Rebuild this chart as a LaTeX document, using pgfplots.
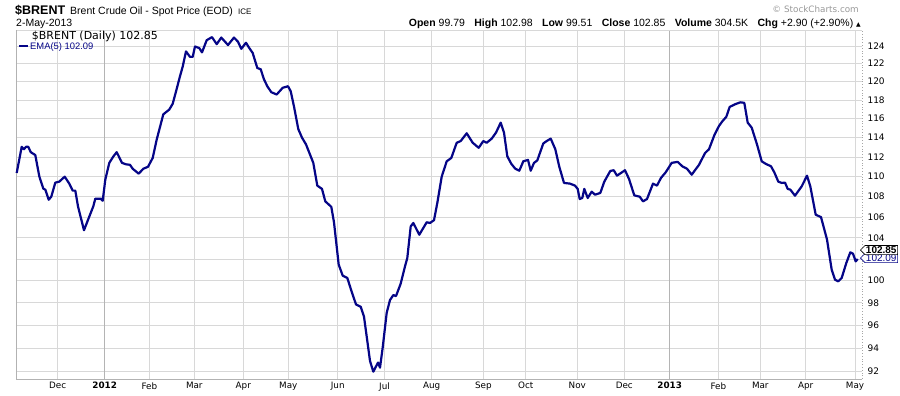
\documentclass[border=0pt]{standalone}
\usepackage{pgfplots}
\pgfplotsset{compat=1.18}
\usepackage{fontspec}
\setmainfont{Liberation Sans}
\newfontfamily\dv{DejaVu Sans}
\usetikzlibrary{shapes.symbols}
\definecolor{navy}{RGB}{5,5,135}
\definecolor{gridc}{RGB}{216,216,216}
\definecolor{yeargrid}{RGB}{180,180,180}

\pgfplotstableread{
x y
16.7 110.37
21.7 113.05
24 112.8
26 113.05
28.3 113.05
30.7 112.5
35.3 112.2
39.3 110.03
43.3 108.8
45.3 108.7
48.7 107.7
51.3 108.0
55.3 109.4
59.3 109.5
64.7 110.0
69.3 109.3
72.7 108.6
75.3 108.6
78 107.05
84 104.73
88.7 105.9
93.3 107.05
95.3 107.8
100.7 107.8
102.7 107.6
105.3 109.7
109.3 111.4
113.3 112.05
116.7 112.5
122 111.4
126 111.25
130 111.2
132.7 110.8
138.7 110.3
143.3 110.8
148 111.0
152.7 111.9
156.7 113.8
163.3 116.46
169.3 116.98
172.7 117.6
176 118.93
180 120.6
182.7 121.67
186 123.38
190 122.76
192.7 122.76
195 123.93
199.3 123.75
202 123.27
206.7 124.65
212 125.0
216.7 124.2
221.3 124.95
228 124.1
234 124.95
238 124.47
241.3 123.67
246 124.36
249.3 123.75
252.7 123.2
257.3 121.52
260.7 121.37
264 120.26
267.3 119.5
271.3 118.85
276.7 118.6
282.7 119.33
288 119.5
290.7 118.96
294 117.3
298.3 114.9
302 114.0
306 113.3
313.3 111.4
317.3 109.1
322 108.77
325.3 107.54
331.3 107.0
334 105.49
338.7 101.48
342.7 100.46
347.3 100.25
352 98.9
356 97.85
360.7 97.64
364 96.75
367.3 94.63
370 92.91
373.3 92.0
378 92.77
380 92.34
382.7 94.06
386.7 97.1
390 98.24
393.3 98.69
396 98.6
400.7 99.73
405 101.32
407.3 102.1
410.7 105.1
413.3 105.43
419.3 104.3
426.7 105.5
430 105.43
434 105.7
437.3 107.38
441.7 110.0
446.7 111.56
451.3 111.9
456.7 113.47
460.7 113.65
466.7 114.46
472.7 113.47
478.7 112.95
483.3 113.65
486.7 113.47
491.7 113.9
496 114.53
500.7 115.58
504 114.53
507.3 112.07
511.3 111.3
515.3 110.8
519.3 110.6
523.3 111.56
528 111.7
530.7 110.6
534 111.4
537.3 111.65
543.3 113.4
546.7 113.65
550.7 113.9
555.3 112.8
559.3 111.0
564 109.37
570 109.3
575 109.1
577.7 108.77
579.7 107.77
582.3 107.87
584.3 108.77
587.7 107.87
591.7 108.5
595 108.2
600.3 108.37
604.3 109.5
610.3 110.58
613.7 110.65
617 110.1
625 110.65
629 109.77
634.3 108.13
639.7 108.0
643 107.54
647 107.77
653 109.3
657 109.1
661 109.88
665.7 110.44
671.7 111.4
677.7 111.5
682.3 111.05
687 110.8
691.7 110.2
699 111.2
705 112.4
709 112.8
714.3 114.25
719 115.23
722.3 115.72
726.3 116.2
729.7 117.26
735 117.54
740.3 117.75
744.3 117.7
747.7 115.58
751.7 115.05
757 113.3
761.7 111.56
765.7 111.3
771 111.05
774.3 110.44
778.3 109.5
781.7 109.37
785 109.4
787.7 108.77
790.3 108.7
795 108.1
801.7 109.03
807 110.1
810.3 109.03
815.7 106.23
821 106.0
827 103.84
831.7 101.0
835 100.09
838.3 99.94
841.7 100.25
846.3 101.63
850.3 102.63
853 102.5
855.7 101.78
857.7 102.0
}\ema

\begin{document}
\begin{tikzpicture}
\useasboundingbox (0,0) rectangle (900pt,396pt);
\begin{axis}[
  at={(16pt,17pt)}, anchor=south west, scale only axis,
  width=846pt, height=349pt,
  xmin=16, xmax=862, ymode=log, ymin=91.39, ymax=125.83,
  clip=false,
  axis line style={draw=none},
  grid=major, grid style={gridc, line width=0.8pt},
  major tick length=0pt,
  xtick={57.7,149.3,194.3,243.3,288.3,337.7,384.5,431.7,483.3,525.7,577.3,624.3,718.3,760.3,805.7,855},
  xticklabels={Dec,Feb,Mar,Apr,May,Jun,Jul,Aug,Sep,Oct,Nov,Dec,Feb,Mar,Apr,May},
  extra x ticks={104.7,669.7},
  extra x tick labels={\textbf{2012},\textbf{2013}},
  extra x tick style={grid style={yeargrid, line width=0.8pt}},
  xticklabel style={font=\dv\fontsize{8.8}{10}\selectfont, text=black},
  ytick={92,94,96,98,100,102,104,106,108,110,112,114,116,118,120,122,124},
  yticklabels={92,94,96,98,100,102,104,106,108,110,112,114,116,118,120,122,124},
  yticklabel pos=right,
  yticklabel style={font=\dv\fontsize{9}{10}\selectfont, text=black, xshift=2pt},
]
% frame
\draw[gridc, line width=0.8pt] (rel axis cs:0,1) -- (rel axis cs:1,1);
\draw[gray!60, line width=0.8pt] (rel axis cs:0,1) -- (rel axis cs:0,0) -- (rel axis cs:1,0);
\draw[gray!70, line width=0.8pt, dotted] (rel axis cs:1,0) -- (rel axis cs:1,1);
\addplot[navy, line width=2.2pt, line join=round] table[x=x,y=y] {\ema};
% last value markers
\node[signal, signal to=west, draw=navy, fill=white, line width=0.6pt, inner sep=1pt,
      anchor=west, font=\fontsize{10}{10}\selectfont, text=navy, minimum height=9pt]
      at (axis cs:860,102.09) {102.09};
\node[signal, signal to=west, draw=black, fill=white, line width=0.6pt, inner sep=1pt,
      anchor=west, font=\bfseries\fontsize{10}{10}\selectfont, minimum height=9pt]
      at (axis cs:860,102.85) {102.85};
\end{axis}
% header
\node[anchor=base west, inner sep=0] at (15pt,381pt) {\bfseries\fontsize{12.5}{13}\selectfont \$BRENT};
\node[anchor=base west, inner sep=0] at (70pt,381pt) {\fontsize{10.5}{12}\selectfont Brent Crude Oil - Spot Price (EOD)};
\node[anchor=base west, inner sep=0] at (238pt,381pt) {\fontsize{8}{9}\selectfont ICE};
\node[anchor=base west, inner sep=0] at (16pt,369.3pt) {\fontsize{10.5}{12}\selectfont 2-May-2013};
\node[anchor=base east, inner sep=0, text=gray!80] at (859pt,383.5pt) {\dv\fontsize{8.8}{10}\selectfont \textcopyright\ StockCharts.com};
\node[anchor=base east, inner sep=0] at (861pt,369pt) {\fontsize{10.5}{12}\selectfont
  \textbf{Open} 99.79\hspace{6.5pt} \textbf{High} 102.98\hspace{6.5pt} \textbf{Low} 99.51\hspace{6.5pt} \textbf{Close} 102.85\hspace{6.5pt} \textbf{Volume} 304.5K\hspace{6.5pt} \textbf{Chg} +2.90 (+2.90\%) {\dv\fontsize{6}{6}\selectfont ▲}};
% legend
\node[anchor=base west, inner sep=0] at (31.7pt,356.3pt) {\dv\fontsize{11}{12}\selectfont \$BRENT (Daily) 102.85};
\draw[navy, line width=2pt] (19pt,349.5pt) -- (28pt,349.5pt);
\node[anchor=base west, inner sep=0, text=navy] at (30pt,346.5pt) {\fontsize{9.4}{11}\selectfont EMA(5) 102.09};
\end{tikzpicture}
\end{document}
